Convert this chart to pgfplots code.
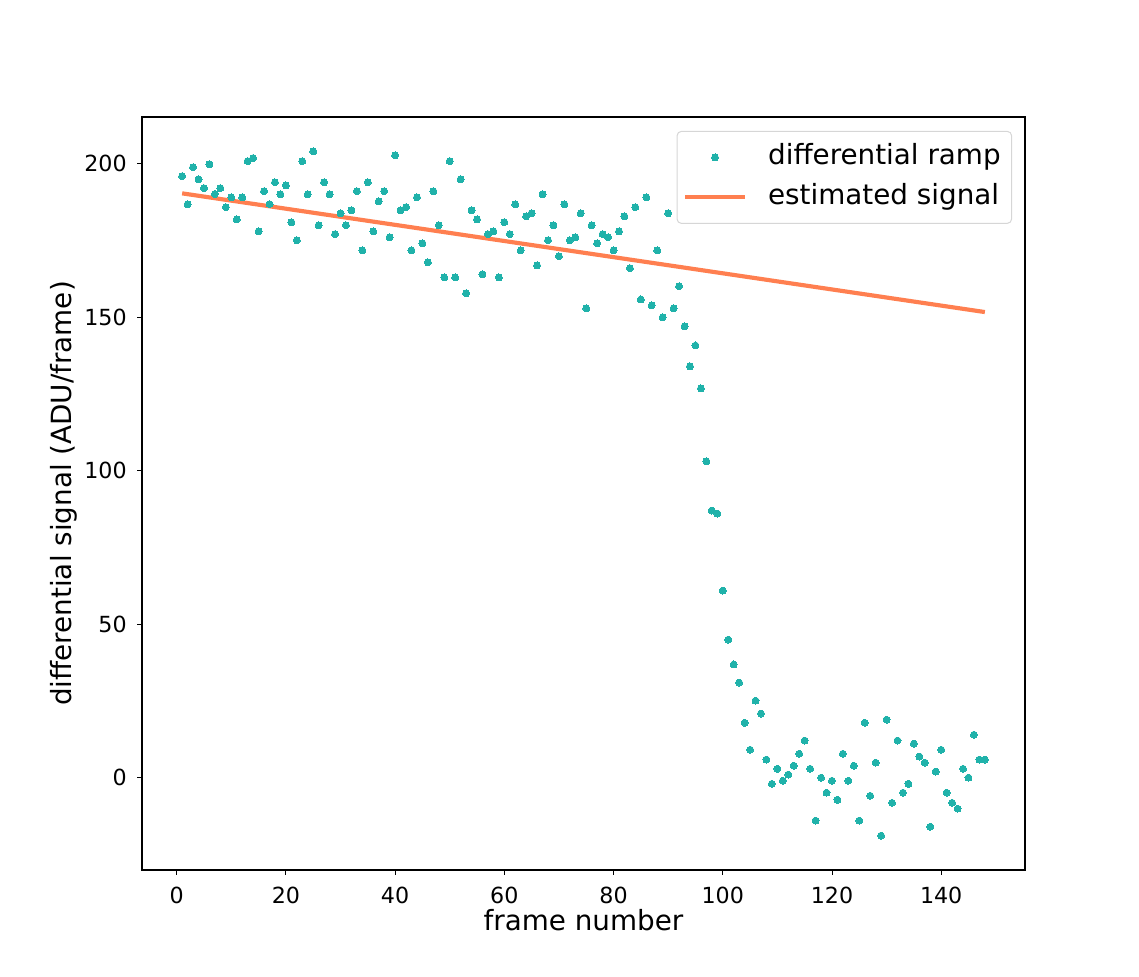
\documentclass[border=0pt]{standalone}
\usepackage{fontspec}
\setmainfont{DejaVu Sans}
\usepackage{pgfplots}
\pgfplotsset{compat=1.18}
\definecolor{dotc}{HTML}{20B2AA}
\definecolor{linec}{HTML}{FF7F50}
\definecolor{legframe}{HTML}{D6D6D6}
\newcommand{\tickfont}{\fontsize{11.1}{13}\selectfont}
\pgfplotsset{
  mydotleg/.style={legend image code/.code={\draw[##1] plot coordinates {(15pt,0pt)};}},
  mylineleg/.style={legend image code/.code={\draw[##1] (0pt,0pt) -- (30pt,0pt);}},
}
\begin{document}
\begin{tikzpicture}
\path (0,0) rectangle (569.5pt,488.5pt);
\begin{axis}[
  at={(71pt,53.5pt)}, anchor=south west,
  scale only axis, width=441.5pt, height=376.5pt,
  xmin=-6.35, xmax=155.35, ymin=-30.2, ymax=215.3,
  xtick={0,20,40,60,80,100,120,140}, ytick={0,50,100,150,200},
  xticklabels={{\tickfont 0},{\tickfont 20},{\tickfont 40},{\tickfont 60},{\tickfont 80},{\tickfont 100},{\tickfont 120},{\tickfont 140}},
  yticklabels={{\tickfont 0},{\tickfont 50},{\tickfont 100},{\tickfont 150},{\tickfont 200}},
  xtick pos=left, ytick pos=left,
  tick align=outside, major tick length=2.45pt,
  tick style={black, line width=0.45pt},
  axis line style={line width=0.55pt},
  tick label style={font=\tickfont},
  xticklabel style={inner sep=0pt, yshift=-6pt},
  yticklabel style={inner sep=0pt, xshift=-5pt},
  label style={font=\fontsize{13.9}{16}\selectfont},
  xlabel={frame number}, ylabel={differential signal (ADU/frame)},
  xlabel style={at={(axis description cs:0.5,-0.081)}, anchor=base},
  ylabel style={at={(axis description cs:-0.0793,0.5)}, anchor=base},
  legend style={at={(axis description cs:1,1)}, anchor=north east,
    xshift=-6.5pt, yshift=-7pt, draw=legframe, line width=0.5pt,
    rounded corners=2pt, inner xsep=2.9pt, inner ysep=4.6pt,
    font=\fontsize{13.9}{16}\selectfont, row sep=3.3pt,
    column sep=8pt,
    nodes={inner xsep=2.5pt, inner ysep=1.5pt, text height=10.5pt, text depth=3.2pt}},
  legend cell align=left,
]
\addplot[dotc, only marks, mark=*, mark size=1.75pt, mark options={draw=dotc, fill=dotc, line width=0pt}, mydotleg]
  coordinates {
(1,196.0) (2,186.8) (3,198.9) (4,195.0) (5,192.1) (6,199.9) (7,190.2) (8,192.1) (9,185.9) (10,189.1)
(11,181.9) (12,189.1) (13,200.9) (14,201.9) (15,178.0) (16,191.1) (17,186.9) (18,194.0) (19,190.1) (20,193.0)
(21,181.0) (22,175.1) (23,200.9) (24,190.1) (25,204.1) (26,180.0) (27,194.0) (28,190.1) (29,177.1) (30,183.9)
(31,180.0) (32,184.9) (33,191.1) (34,171.8) (35,194.0) (36,178.0) (37,187.8) (38,191.1) (39,176.1) (40,202.8)
(41,184.9) (42,185.9) (43,171.8) (44,189.1) (45,174.1) (46,167.9) (47,191.1) (48,180.0) (49,163.0) (50,200.9)
(51,163.0) (52,195.0) (53,157.8) (54,184.9) (55,181.9) (56,164.0) (57,177.1) (58,178.0) (59,163.0) (60,181.0)
(61,177.1) (62,186.8) (63,171.8) (64,182.9) (65,183.9) (66,166.9) (67,190.1) (68,175.1) (69,180.0) (70,169.9)
(71,186.8) (72,175.1) (73,176.1) (74,183.9) (75,152.9) (76,180.0) (77,174.1) (78,177.1) (79,176.1) (80,171.8)
(81,178.0) (82,182.9) (83,166.0) (84,185.9) (85,155.8) (86,189.1) (87,153.9) (88,171.8) (89,150.0) (90,183.9)
(91,152.9) (92,160.1) (93,147.0) (94,134.0) (95,140.8) (96,126.8) (97,103.0) (98,87.0) (99,86.0) (100,60.9)
(101,44.9) (102,36.8) (103,30.9) (104,17.8) (105,9.0) (106,25.0) (107,20.8) (108,5.8) (109,-2.1) (110,2.8)
(111,-1.1) (112,0.9) (113,3.8) (114,7.7) (115,12.0) (116,2.8) (117,-14.1) (118,-0.1) (119,-5.0) (120,-1.1)
(121,-7.3) (122,7.7) (123,-1.1) (124,3.8) (125,-14.1) (126,17.8) (127,-6.0) (128,4.8) (129,-19.0) (130,18.8)
(131,-8.3) (132,12.0) (133,-5.0) (134,-2.1) (135,11.0) (136,6.8) (137,4.8) (138,-16.1) (139,1.9) (140,9.0)
(141,-5.0) (142,-8.3) (143,-10.2) (144,2.8) (145,-0.1) (146,13.9) (147,5.8) (148,5.8)
  };
\addlegendentry{differential ramp}
\addplot[linec, line width=2.08pt, mark=none, mylineleg]
  coordinates {(1,190.4) (148,151.7)};
\addlegendentry{estimated signal}
\end{axis}
\end{tikzpicture}
\end{document}
